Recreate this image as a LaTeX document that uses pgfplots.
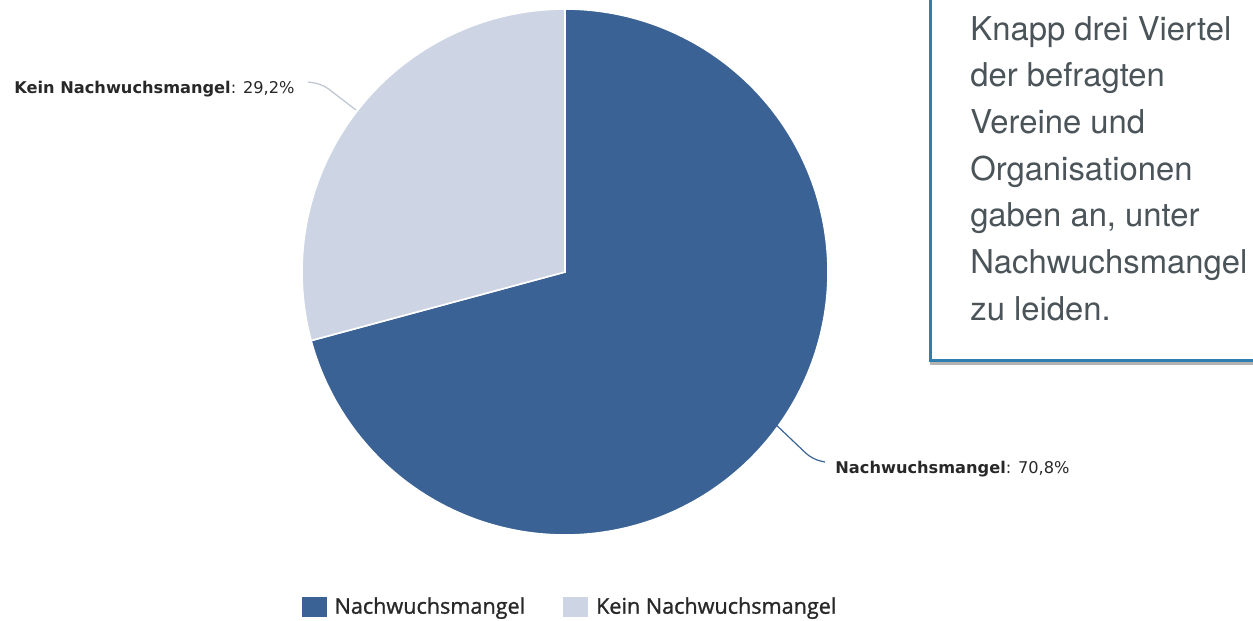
\documentclass[border=0pt]{standalone}
\usepackage{pgfplots}
\pgfplotsset{compat=1.18}
\usepackage{fontspec}
\usetikzlibrary{shadows}
\newfontfamily\lblfont{DejaVu Sans}
\newfontfamily\legfont[FakeBold=1.2]{Open Sans}
\newfontfamily\boxfont{TeX Gyre Heros}
\definecolor{cA}{RGB}{58,98,149}
\definecolor{cB}{RGB}{205,213,229}
\definecolor{boxblue}{RGB}{46,126,176}
\definecolor{boxtext}{RGB}{74,84,89}
\definecolor{lbl}{RGB}{40,40,40}
% data (percent)
\def\valA{70.8}% Nachwuchsmangel
\def\valB{29.2}% Kein Nachwuchsmangel
\pgfmathsetmacro{\angA}{90-3.6*\valA}
\pgfmathsetmacro{\angB}{\angA-3.6*\valB}
\tikzset{boxline/.style={anchor=base west, inner sep=0pt, text=boxtext, font=\boxfont\fontsize{16.4}{20}\selectfont}}
\begin{document}
\begin{tikzpicture}
\useasboundingbox (0,0) rectangle (626.5pt,310.5pt);
\clip (0,0) rectangle (626.5pt,310.5pt);
\begin{axis}[
  at={(0pt,0pt)}, anchor=south west,
  scale only axis, width=626.5pt, height=310.5pt,
  xmin=0, xmax=1253, ymin=0, ymax=621, y dir=reverse,
  hide axis, clip=false,
  legend columns=2,
  legend image code/.code={\fill[#1] (0pt,-4.8pt) rectangle (12.5pt,4.8pt); \path (14.5pt,0pt);},
  legend style={at={(axis cs:571,607)}, anchor=center, draw=none, fill=none,
    inner sep=0pt, font=\legfont\fontsize{10.8}{13}\selectfont, text=lbl,
    /tikz/every even column/.append style={column sep=17pt}},
]
\addplot[forget plot, fill=cA, draw=white, line width=0.8pt, domain=\angA:90, samples=240, variable=\t]
  ({565+263*cos(\t)}, {272-263*sin(\t)}) -- (axis cs:565,272) -- cycle;
\addplot[forget plot, fill=cB, draw=white, line width=0.8pt, domain=\angB:\angA, samples=120, variable=\t]
  ({565+263*cos(\t)}, {272-263*sin(\t)}) -- (axis cs:565,272) -- cycle;
\addlegendimage{fill=cA, draw=none}
\addlegendentry{Nachwuchsmangel}
\addlegendimage{fill=cB, draw=none}
\addlegendentry{Kein Nachwuchsmangel}
% connectors
\draw[color=cB!80!gray, line width=0.6pt, rounded corners=4pt] (axis cs:308,82) -- (axis cs:322,84) -- (axis cs:356,110);
\draw[color=cA, line width=0.6pt, rounded corners=4pt] (axis cs:772,421) -- (axis cs:812,459) -- (axis cs:825,462);
% data labels
\node[anchor=base west, inner sep=0pt, text=lbl, font=\lblfont\fontsize{8.1}{10}\selectfont] at (axis cs:14,93) {\textbf{Kein Nachwuchsmangel}: 29,2\%};
\node[anchor=base west, inner sep=0pt, text=lbl, font=\lblfont\fontsize{8.1}{10}\selectfont] at (axis cs:835,473) {\textbf{Nachwuchsmangel}: 70,8\%};
% text box
\draw[boxblue, line width=1.5pt, fill=white, drop shadow={shadow xshift=0pt, shadow yshift=-2.5pt, opacity=0.6}] (axis cs:930,360) rectangle (axis cs:1290,-30);
\node[boxline] at (axis cs:970,40) {Knapp drei Viertel};
\node[boxline] at (axis cs:970,86.7) {der befragten};
\node[boxline] at (axis cs:970,133.4) {Vereine und};
\node[boxline] at (axis cs:970,180.1) {Organisationen};
\node[boxline] at (axis cs:970,226.8) {gaben an, unter};
\node[boxline] at (axis cs:970,273.5) {Nachwuchsmangel};
\node[boxline] at (axis cs:970,320.2) {zu leiden.};
\end{axis}
\end{tikzpicture}
\end{document}
